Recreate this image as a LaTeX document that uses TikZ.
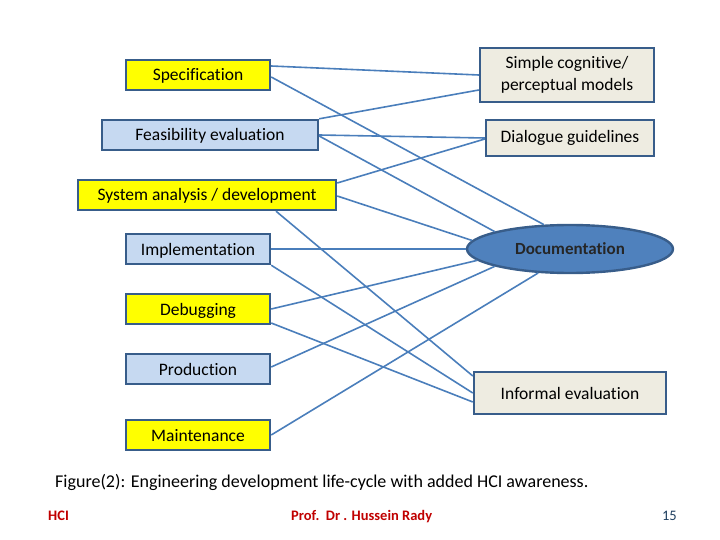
\documentclass[tikz,border=0pt]{standalone}
\usepackage{fontspec}
\setmainfont{Carlito}[Ligatures=NoCommon]
\usetikzlibrary{shapes.geometric}
\definecolor{linkblue}{HTML}{4A7EBB}
\definecolor{edgeblue}{HTML}{385D8A}
\definecolor{ybox}{HTML}{FFFF00}
\definecolor{lbbox}{HTML}{C6D9F1}
\definecolor{tanbox}{HTML}{EEECE1}
\definecolor{docfill}{HTML}{4F81BD}
\definecolor{footred}{HTML}{C00000}
\definecolor{footnum}{HTML}{1F3F5F}
\begin{document}
\begin{tikzpicture}[x=1pt,y=-1pt,
  stage/.style={draw=edgeblue,line width=2.4pt,minimum height=30pt,inner sep=0pt,text height=13pt,text depth=1pt,font=\fontsize{17.5}{19}\selectfont,text=black},
  ystage/.style={stage,fill=ybox},
  bstage/.style={stage,fill=lbbox},
  hci/.style={draw=edgeblue,line width=2.4pt,fill=tanbox,inner sep=0pt,align=center,font=\fontsize{17.5}{22}\selectfont,text=black},
  link/.style={draw=linkblue,line width=1.6pt},
  foot/.style={anchor=base west,inner sep=0pt,font=\fontsize{14.5}{16}\selectfont\bfseries,text=footred}]
\useasboundingbox (0,0) rectangle (720,540);
% left stages
\node[ystage,minimum width=144pt] (spec) at (198,75) {Specification};
\node[bstage,minimum width=216pt] (feas) at (210,135) {Feasibility evaluation};
\node[ystage,minimum width=258pt] (sys) at (207,195) {System analysis / development};
\node[bstage,minimum width=144pt] (impl) at (198,249) {Implementation};
\node[ystage,minimum width=144pt] (debug) at (198,309) {Debugging};
\node[bstage,minimum width=144pt] (prod) at (198,369) {Production};
\node[ystage,minimum width=144pt] (maint) at (198,435) {Maintenance};
% right HCI items
\node[hci,minimum width=174pt,minimum height=54pt] (simple) at (567,75) {Simple cognitive/\\perceptual models};
\node[hci,minimum width=168pt,minimum height=36pt] (dial) at (570,138) {Dialogue guidelines};
\node[ellipse,draw=edgeblue,line width=2.4pt,fill=docfill,minimum width=206pt,minimum height=48pt,inner sep=0pt,font=\fontsize{17}{19}\selectfont\bfseries,text=black!85] (doc) at (570,249) {Documentation};
\node[hci,minimum width=192pt,minimum height=42pt] (inf) at (570,393) {Informal evaluation};
% connectors
\draw[link] ([yshift=9pt]spec.east) -- (simple.west);
\draw[link] ([yshift=-2pt]spec.east) -- (doc.137);
\draw[link] (feas.north east) -- ([yshift=-15pt]simple.west);
\draw[link] (feas.east) -- (dial.west);
\draw[link] ([yshift=-1pt]feas.east) -- (doc.167);
\draw[link] ([yshift=12pt]sys.east) -- ([yshift=-1pt]dial.west);
\draw[link] ([yshift=-1pt]sys.east) -- (doc.175);
\draw[link] ([xshift=69pt]sys.south) -- ([yshift=17pt]inf.west);
\draw[link] (impl.east) -- (doc.west);
\draw[link] (impl.south east) -- (inf.west);
\draw[link] (debug.east) -- (doc.187);
\draw[link] ([yshift=-14pt]debug.east) -- ([yshift=-9pt]inf.west);
\draw[link] ([yshift=2pt]prod.east) -- (doc.193);
\draw[link] (maint.east) -- (doc.217);
% caption and footer
\node[anchor=west,inner sep=0pt,font=\fontsize{18}{20}\selectfont] (cap) at (55,482) {Figure(2): Engineering development life-cycle with added HCI awareness.};
\node[foot] (fl) at (48,520) {HCI};
\node[foot] (fc) at (291,520) {Prof.\ \ Dr . Hussein Rady};
\node[anchor=base east,inner sep=0pt,font=\fontsize{14.5}{16}\selectfont,text=footnum] (fr) at (677,520) {15};
\end{tikzpicture}
\end{document}
